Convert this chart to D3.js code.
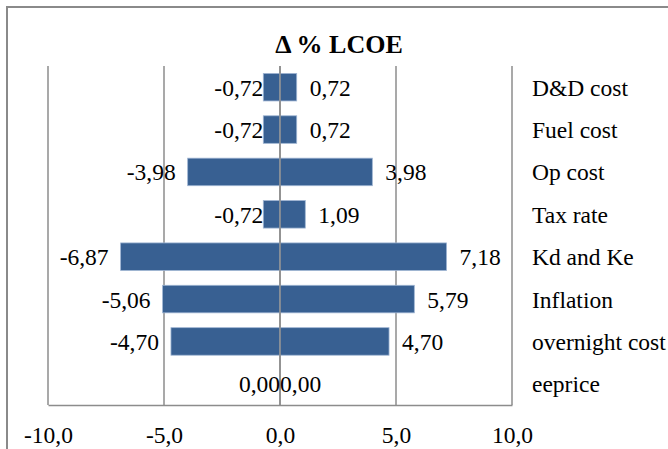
<!DOCTYPE html>
<html>
<head>
<meta charset="utf-8">
<script src="https://cdn.jsdelivr.net/npm/d3@7"></script>
<style>
  html, body { margin: 0; padding: 0; background: #fff; }
  svg { display: block; }
  text { font-family: "Liberation Serif", "Times New Roman", serif; fill: #000; }
</style>
</head>
<body>
<svg id="chart" width="668" height="449"></svg>
<script>
// ---- data ----
const categories = ["D&D cost", "Fuel cost", "Op cost", "Tax rate", "Kd and Ke", "Inflation", "overnight cost", "eeprice"];
const lowValues  = [-0.72, -0.72, -3.98, -0.72, -6.87, -5.06, -4.70, 0.00];
const highValues = [0.72, 0.72, 3.98, 1.09, 7.18, 5.79, 4.70, 0.00];
const xTicks = [-10, -5, 0, 5, 10];
const chartTitle = "Δ % LCOE";

// ---- layout ----
const plot = { left: 48, right: 512, top: 66, bottom: 405 };
const svg = d3.select("#chart");
const fontSize = "23.5px";

const fmt = v => d3.format(".2f")(v).replace("−", "-").replace(".", ",");
const fmtTick = v => d3.format(".1f")(v).replace("−", "-").replace(".", ",");

// outer frame (extends past the picture on right and bottom)
svg.append("rect")
  .attr("x", 7).attr("y", 7)
  .attr("width", 720).attr("height", 520)
  .attr("fill", "#fff")
  .attr("stroke", "#8a8a8a").attr("stroke-width", 2);

const x = d3.scaleLinear().domain([-10, 10]).range([plot.left, plot.right]);
const y = d3.scaleBand().domain(categories).range([plot.top, plot.bottom]).paddingInner(0.35).paddingOuter(0.175);

// title
svg.append("text")
  .attr("x", 339).attr("y", 53)
  .attr("text-anchor", "middle")
  .style("font-size", "26px").style("font-weight", "bold")
  .text(chartTitle);

// gridlines
svg.append("g").selectAll("line").data(xTicks).join("line")
  .attr("x1", d => x(d)).attr("x2", d => x(d))
  .attr("y1", plot.top).attr("y2", plot.bottom)
  .attr("stroke", "#8c8c8c").attr("stroke-width", 1.5);

// bottom axis
const axis = d3.axisBottom(x).tickValues(xTicks).tickSize(0).tickPadding(0).tickFormat(fmtTick);
const gAxis = svg.append("g").attr("transform", `translate(0,${plot.bottom})`).call(axis);
gAxis.select(".domain").attr("stroke", "#8c8c8c").attr("stroke-width", 1.5);
gAxis.selectAll("text")
  .attr("y", 38).attr("dy", null)
  .style("font-family", "'Liberation Serif', 'Times New Roman', serif")
  .style("font-size", fontSize).attr("fill", "#000");

// bars
const rows = categories.map((c, i) => ({ c, lo: lowValues[i], hi: highValues[i] }));
const barColor = "#386092";
const gBars = svg.append("g");
gBars.selectAll("rect.lo").data(rows).join("rect").attr("class", "lo")
  .attr("x", d => x(Math.min(d.lo, 0)))
  .attr("width", d => Math.abs(x(d.lo) - x(0)))
  .attr("y", d => y(d.c)).attr("height", y.bandwidth())
  .attr("fill", barColor).attr("stroke", d => d.lo === 0 ? "none" : "#9fb5d3").attr("stroke-width", 0.8);
gBars.selectAll("rect.hi").data(rows).join("rect").attr("class", "hi")
  .attr("x", d => x(0))
  .attr("width", d => Math.abs(x(d.hi) - x(0)))
  .attr("y", d => y(d.c)).attr("height", y.bandwidth())
  .attr("fill", barColor).attr("stroke", d => d.hi === 0 ? "none" : "#9fb5d3").attr("stroke-width", 0.8);

// zero line over bars
svg.append("line")
  .attr("x1", x(0)).attr("x2", x(0))
  .attr("y1", plot.top).attr("y2", plot.bottom)
  .attr("stroke", "#8c8c8c").attr("stroke-width", 1.5);

// value labels
const cy = d => y(d.c) + y.bandwidth() / 2 + 8.5;
svg.append("g").selectAll("text").data(rows).join("text")
  .attr("x", d => x(d.lo) - (Math.abs(d.lo) < 1 ? 0 : 12))
  .attr("y", cy)
  .attr("text-anchor", "end")
  .style("font-size", fontSize)
  .text(d => fmt(d.lo));
svg.append("g").selectAll("text").data(rows).join("text")
  .attr("x", d => x(d.hi) + (d.hi === 0 ? 0 : 13))
  .attr("y", cy)
  .attr("text-anchor", "start")
  .style("font-size", fontSize)
  .text(d => fmt(d.hi));

// category labels
svg.append("g").selectAll("text").data(categories).join("text")
  .attr("x", 532)
  .attr("y", d => y(d) + y.bandwidth() / 2 + 8.5)
  .style("font-size", fontSize)
  .text(d => d);
</script>
</body>
</html>
